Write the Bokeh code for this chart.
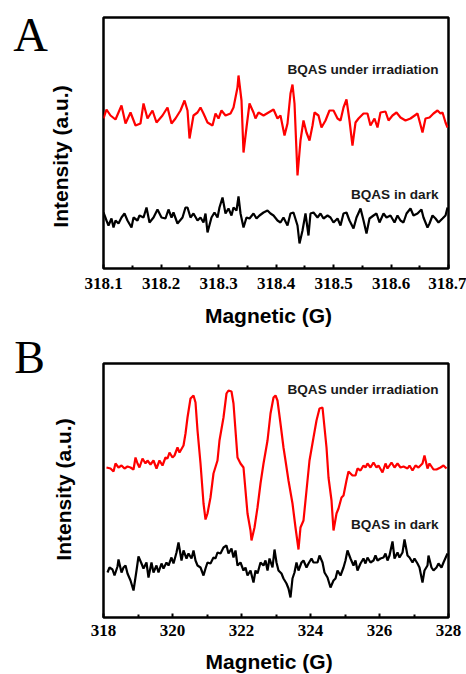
import math
from bokeh.plotting import figure
from bokeh.models import FixedTicker, Label
from bokeh.layouts import column
from bokeh.embed import file_html
from bokeh.resources import INLINE

# ---------------- Panel A data ----------------
a_ticks = [318.1, 318.2, 318.3, 318.4, 318.5, 318.6, 318.7]
a_minor = [318.15, 318.25, 318.35, 318.45, 318.55, 318.65]
a_tick_labels = {318.1: "318.1", 318.2: "318.2", 318.3: "318.3", 318.4: "318.4",
                 318.5: "318.5", 318.6: "318.6", 318.7: "318.7"}

a_red_x = [
    318.1000, 318.1052, 318.1122, 318.1209, 318.1313, 318.1383, 318.1470, 318.1557, 318.1643, 318.1696,
    318.1765, 318.1852, 318.1922, 318.2026, 318.2113, 318.2183, 318.2252, 318.2339, 318.2409, 318.2461,
    318.2496, 318.2565, 318.2635, 318.2687, 318.2739, 318.2809, 318.2896, 318.2948, 318.3000, 318.3052,
    318.3122, 318.3209, 318.3261, 318.3330, 318.3348, 318.3400, 318.3435, 318.3487, 318.3539, 318.3609,
    318.3643, 318.3696, 318.3783, 318.3870, 318.3957, 318.4026, 318.4078, 318.4148, 318.4200, 318.4252,
    318.4287, 318.4322, 318.4374, 318.4426, 318.4478, 318.4530, 318.4583, 318.4635, 318.4670, 318.4739,
    318.4791, 318.4861, 318.4930, 318.5000, 318.5070, 318.5122, 318.5174, 318.5226, 318.5278, 318.5330,
    318.5383, 318.5435, 318.5522, 318.5591, 318.5643, 318.5713, 318.5765, 318.5817, 318.5904, 318.5957,
    318.6026, 318.6096, 318.6165, 318.6252, 318.6339, 318.6461, 318.6548, 318.6600, 318.6670, 318.6739,
    318.6809, 318.6861, 318.6896, 318.6948, 318.6983,
]
a_red_y = [
    150, 159, 153, 149, 163, 145, 156, 143, 145, 165,
    150, 158, 146, 153, 161, 145, 150, 158, 168, 158,
    130, 153, 156, 161, 155, 146, 143, 155, 150, 158,
    153, 155, 161, 181, 193, 168, 116, 141, 165, 156,
    150, 156, 153, 156, 159, 150, 153, 133, 145, 175,
    184, 165, 93, 128, 148, 136, 128, 143, 156, 153,
    141, 148, 158, 158, 150, 148, 161, 169, 148, 123,
    146, 150, 155, 155, 143, 150, 141, 156, 157, 148,
    153, 156, 151, 148, 150, 155, 136, 150, 151, 155,
    158, 155, 156, 146, 141,
]

a_dark_x = [
    318.1000, 318.1052, 318.1087, 318.1139, 318.1174, 318.1209, 318.1261, 318.1313, 318.1365, 318.1417,
    318.1487, 318.1522, 318.1591, 318.1626, 318.1696, 318.1748, 318.1800, 318.1870, 318.1939, 318.2009,
    318.2078, 318.2130, 318.2183, 318.2217, 318.2287, 318.2374, 318.2426, 318.2461, 318.2513, 318.2565,
    318.2635, 318.2687, 318.2739, 318.2774, 318.2809, 318.2878, 318.2930, 318.2983, 318.3017, 318.3070,
    318.3122, 318.3174, 318.3226, 318.3261, 318.3313, 318.3348, 318.3383, 318.3435, 318.3487, 318.3539,
    318.3609, 318.3661, 318.3713, 318.3783, 318.3852, 318.3904, 318.3957, 318.4026, 318.4078, 318.4130,
    318.4200, 318.4252, 318.4304, 318.4374, 318.4409, 318.4461, 318.4513, 318.4565, 318.4600, 318.4652,
    318.4722, 318.4774, 318.4826, 318.4896, 318.4948, 318.5000, 318.5070, 318.5122, 318.5174, 318.5226,
    318.5278, 318.5348, 318.5400, 318.5470, 318.5522, 318.5574, 318.5626, 318.5696, 318.5748, 318.5800,
    318.5870, 318.5922, 318.5991, 318.6061, 318.6113, 318.6165, 318.6217, 318.6270, 318.6339, 318.6391,
    318.6461, 318.6530, 318.6565, 318.6635, 318.6670, 318.6722, 318.6774, 318.6826, 318.6896, 318.6948,
    318.6983,
]
a_dark_y = [
    56, 48, 43, 50, 41, 48, 45, 51, 55, 48,
    41, 51, 48, 53, 51, 61, 46, 51, 59, 51,
    50, 59, 51, 56, 45, 51, 61, 61, 51, 55,
    48, 51, 46, 55, 36, 51, 56, 51, 61, 71,
    55, 60, 53, 61, 58, 72, 55, 41, 51, 50,
    55, 50, 53, 56, 58, 55, 53, 48, 46, 51,
    43, 55, 56, 43, 25, 38, 55, 33, 55, 56,
    51, 55, 50, 53, 51, 46, 50, 43, 55, 56,
    48, 40, 51, 60, 48, 35, 50, 53, 55, 46,
    55, 51, 53, 46, 53, 48, 46, 55, 60, 53,
    55, 59, 51, 41, 45, 53, 50, 46, 50, 53,
    61,
]

# ---------------- Panel B data ----------------
b_ticks = [318, 320, 322, 324, 326, 328]
b_minor = [319, 321, 323, 325, 327]

b_red_x = [
    318.087, 318.203, 318.290, 318.348, 318.435, 318.522, 318.609, 318.696, 318.783, 318.870,
    318.928, 318.986, 319.043, 319.130, 319.217, 319.275, 319.362, 319.449, 319.536, 319.623,
    319.710, 319.797, 319.855, 319.913, 320.000, 320.058, 320.145, 320.203, 320.319, 320.377,
    320.435, 320.522, 320.609, 320.667, 320.725, 320.812, 320.899, 320.957, 321.014, 321.101,
    321.188, 321.304, 321.362, 321.478, 321.565, 321.623, 321.710, 321.768, 321.826, 321.884,
    321.971, 322.058, 322.116, 322.174, 322.261, 322.290, 322.377, 322.464, 322.551, 322.638,
    322.754, 322.841, 322.928, 322.986, 323.043, 323.130, 323.217, 323.275, 323.362, 323.478,
    323.565, 323.652, 323.710, 323.797, 323.884, 323.971, 324.087, 324.174, 324.261, 324.348,
    324.377, 324.464, 324.522, 324.609, 324.667, 324.754, 324.812, 324.899, 324.957, 325.043,
    325.101, 325.217, 325.304, 325.362, 325.449, 325.536, 325.594, 325.652, 325.739, 325.826,
    325.913, 325.971, 326.087, 326.174, 326.232, 326.348, 326.435, 326.522, 326.609, 326.696,
    326.812, 326.870, 326.957, 327.043, 327.130, 327.246, 327.304, 327.391, 327.449, 327.565,
    327.652, 327.768, 327.855, 327.942,
]
b_red_y = [
    150, 149, 146, 154, 150, 152, 149, 151, 150, 148,
    160, 154, 150, 159, 154, 157, 153, 157, 149, 157,
    152, 160, 159, 165, 160, 162, 170, 165, 172, 184,
    200, 219, 222, 215, 187, 154, 114, 98, 104, 120,
    144, 157, 177, 200, 224, 227, 226, 214, 187, 160,
    154, 150, 127, 104, 87, 77, 90, 110, 134, 154,
    177, 204, 220, 222, 217, 194, 170, 157, 137, 114,
    90, 68, 90, 97, 127, 157, 180, 197, 209, 210,
    200, 170, 140, 117, 87, 104, 109, 120, 122, 137,
    146, 142, 142, 149, 147, 152, 150, 154, 150, 155,
    150, 152, 145, 154, 149, 155, 150, 154, 150, 151,
    149, 152, 147, 152, 150, 154, 162, 149, 154, 148,
    148, 150, 152, 149,
]

b_dark_x = [
    318.116, 318.174, 318.261, 318.319, 318.406, 318.435, 318.522, 318.580, 318.638, 318.696,
    318.783, 318.870, 318.957, 319.014, 319.101, 319.159, 319.246, 319.304, 319.391, 319.449,
    319.536, 319.594, 319.681, 319.739, 319.826, 319.884, 319.971, 320.029, 320.116, 320.174,
    320.261, 320.319, 320.406, 320.464, 320.551, 320.609, 320.667, 320.725, 320.812, 320.899,
    320.957, 321.014, 321.101, 321.188, 321.246, 321.304, 321.391, 321.478, 321.565, 321.623,
    321.710, 321.768, 321.826, 321.884, 321.971, 322.058, 322.116, 322.174, 322.261, 322.348,
    322.406, 322.464, 322.551, 322.638, 322.696, 322.754, 322.812, 322.899, 322.957, 323.014,
    323.072, 323.159, 323.217, 323.304, 323.362, 323.420, 323.478, 323.536, 323.594, 323.652,
    323.739, 323.797, 323.884, 323.942, 324.029, 324.087, 324.203, 324.261, 324.348, 324.406,
    324.493, 324.580, 324.667, 324.725, 324.783, 324.870, 324.957, 325.014, 325.072, 325.159,
    325.246, 325.304, 325.362, 325.449, 325.536, 325.594, 325.652, 325.739, 325.826, 325.884,
    325.942, 326.029, 326.116, 326.174, 326.232, 326.290, 326.377, 326.435, 326.522, 326.580,
    326.667, 326.725, 326.812, 326.870, 326.957, 327.014, 327.101, 327.159, 327.246, 327.304,
    327.391, 327.420, 327.507, 327.565, 327.652, 327.710, 327.797, 327.855, 327.971,
]
b_dark_y = [
    45, 50, 48, 42, 51, 58, 45, 50, 52, 44,
    37, 27, 47, 61, 54, 49, 55, 40, 55, 45,
    52, 45, 54, 49, 55, 52, 60, 54, 65, 75,
    57, 67, 59, 64, 59, 67, 57, 52, 50, 42,
    49, 55, 54, 60, 59, 65, 64, 70, 72, 64,
    69, 60, 67, 52, 55, 47, 50, 42, 47, 35,
    47, 44, 55, 52, 57, 47, 59, 50, 68, 55,
    47, 44, 39, 34, 29, 20, 39, 45, 55, 47,
    55, 57, 50, 54, 59, 55, 55, 62, 55, 45,
    40, 30, 37, 39, 47, 42, 50, 57, 67, 59,
    52, 57, 47, 54, 59, 54, 60, 55, 57, 62,
    57, 59, 60, 64, 57, 62, 76, 59, 65, 60,
    65, 78, 62, 60, 55, 59, 54, 50, 35, 47,
    52, 62, 50, 47, 50, 54, 50, 55, 64,
]

label_red = "BQAS under irradiation"
label_dark = "BQAS in dark"
x_title = "Magnetic (G)"
y_title = "Intensity (a.u.)"

SANS = "Liberation Sans"
SERIF = "Liberation Serif"


def base_panel(height, top, bottom, xr, yr, ticks, minor, fmt, standoff,
               xs_red, ys_red, xs_dark, ys_dark, red_y, dark_y):
    p = figure(width=466, height=height, x_range=xr, y_range=yr,
               output_backend="svg", toolbar_location=None,
               min_border_left=103, min_border_right=18,
               min_border_top=top, min_border_bottom=bottom)
    p.xgrid.visible = False
    p.ygrid.visible = False
    p.background_fill_color = "white"
    p.border_fill_color = "white"
    p.outline_line_color = "black"
    p.outline_line_width = 2.5

    ax = p.xaxis[0]
    ax.ticker = FixedTicker(ticks=ticks, minor_ticks=minor)
    ax.major_label_overrides = fmt
    ax.axis_line_color = None
    ax.major_tick_in = 4
    ax.major_tick_out = 0
    ax.minor_tick_in = 3
    ax.minor_tick_out = 0
    ax.major_tick_line_width = 2
    ax.minor_tick_line_width = 2
    ax.major_tick_line_color = "black"
    ax.minor_tick_line_color = "black"
    ax.major_label_text_font = SERIF
    ax.major_label_text_font_style = "bold"
    ax.major_label_text_font_size = "17px"
    ax.major_label_text_color = "black"
    ax.major_label_standoff = standoff

    ay = p.yaxis[0]
    ay.ticker = FixedTicker(ticks=[])
    ay.axis_line_color = None
    ay.major_label_text_font_size = "0px"
    ay.major_label_standoff = 0
    ay.major_tick_line_color = None
    ay.minor_tick_line_color = None

    p.line(xs_red, ys_red, line_color="#ff0000", line_width=2.2)
    p.line(xs_dark, ys_dark, line_color="black", line_width=2.2)

    for text, y in ((label_red, red_y), (label_dark, dark_y)):
        p.add_layout(Label(x=335, y=y, x_units="screen", y_units="screen",
                           text=text, text_font=SANS, text_font_style="bold",
                           text_font_size="13.6px", text_align="right",
                           text_baseline="middle", text_color="#1a1a1a"))
    return p


def side_label(p, where, x, y, text, font, size, style, angle=0.0):
    p.add_layout(Label(x=x, y=y, text=text, text_font=font,
                       text_font_style=style, text_font_size=size,
                       text_align="center", text_baseline="middle",
                       angle=angle, text_color="black"), where)


# Panel A  (canvas rows 0..329, frame rows 17..268)
pA = base_panel(329, 17, 61, (318.1, 318.7), (0, 251), a_ticks, a_minor,
                a_tick_labels, 9, a_red_x, a_red_y, a_dark_x, a_dark_y, 199, 74)
side_label(pA, "left", 317.973, 234, "A", SERIF, "48px", "normal")
side_label(pA, "left", 318.0252, 112, y_title, SANS, "21px", "bold", math.pi / 2)
side_label(pA, "below", 318.387, -47, x_title, SANS, "21px", "bold")

# Panel B  (canvas rows 329..674, frame rows 363..617)
pB = base_panel(345, 34, 57, (318, 328), (0, 254), b_ticks, b_minor,
                {}, 7, b_red_x, b_red_y, b_dark_x, b_dark_y, 228, 93)
side_label(pB, "left", 315.855, 260, "B", SERIF, "46px", "normal")
side_label(pB, "left", 316.84, 128, y_title, SANS, "21px", "bold", math.pi / 2)
side_label(pB, "below", 322.8, -44, x_title, SANS, "21px", "bold")

layout = column(pA, pB, spacing=0)
open("out.html", "w").write(file_html(layout, INLINE))
